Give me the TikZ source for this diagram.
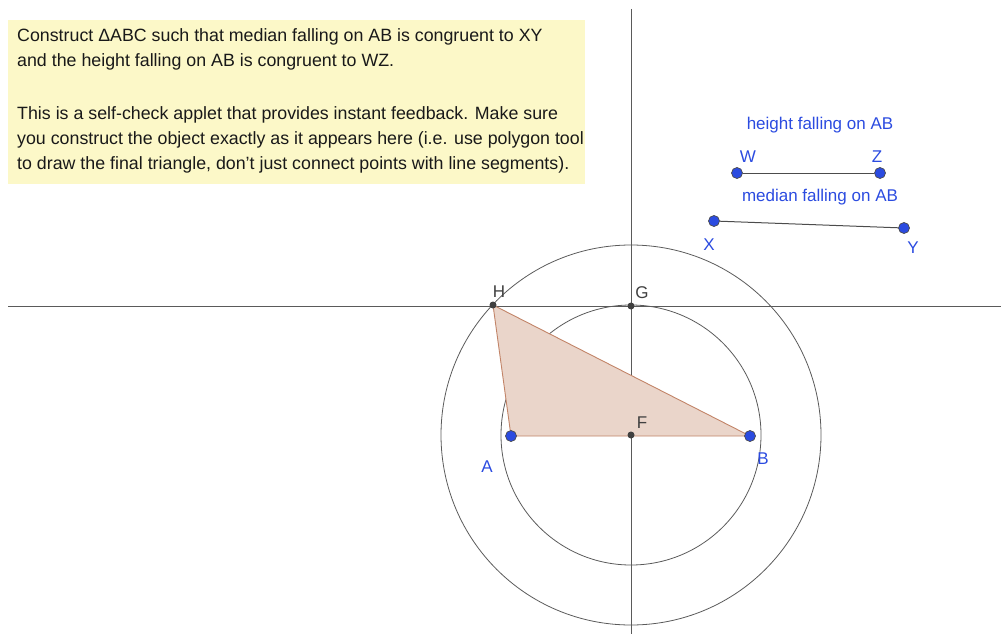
\documentclass[tikz,border=0pt]{standalone}
\usepackage{fontspec}
\setmainfont{Liberation Sans}
\definecolor{ggblue}{HTML}{2B4BE0}
\definecolor{notebg}{HTML}{FCF8C8}
\definecolor{trifill}{HTML}{EAD5CA}
\definecolor{triedge}{HTML}{C28468}
\definecolor{ggline}{HTML}{5A5A5A}
\begin{document}
\begin{tikzpicture}[x=1pt,y=-1pt,
  bluept/.style={circle,fill=ggblue,draw=black!70,line width=0.7pt,inner sep=0pt,minimum size=11pt},
  graypt/.style={circle,fill=black!75,inner sep=0pt,minimum size=7pt},
  bluelbl/.style={font=\fontsize{17}{19}\selectfont,text=ggblue},
  graylbl/.style={font=\fontsize{17}{19}\selectfont,text=black!75},
  axis/.style={draw=ggline,line width=0.8pt},
  seg/.style={draw=black!70,line width=1pt}]
\useasboundingbox (0,0) rectangle (1001,634);

% note box
\fill[notebg] (8,20) rectangle (585,184);
\node[anchor=north west,inner sep=0pt,align=left,font=\fontsize{17.8}{25}\selectfont,text=black!90] (note) at (17,28)
  {Construct ΔABC such that median falling on AB is congruent to XY\\
   and the height falling on AB is congruent to WZ.\\[28pt]
   This is a self-check applet that provides instant feedback. Make sure\\
   you construct the object exactly as it appears here (i.e. use polygon tool\\
   to draw the final triangle, don't just connect points with line segments).};

% points
\coordinate (F) at (631,435);
\coordinate (G) at (631,306);
\coordinate (H) at (493,305);
\coordinate (A) at (511,436);
\coordinate (B) at (750,436);

% axes
\draw[axis] (8,306) -- (1001,306);
\draw[axis] (631,9) -- (631,634);

% circles
\draw[axis] (F) circle[radius=130];
\draw[axis] (F) circle[radius=190];

% triangle
\draw[fill=trifill,draw=triedge,line width=0.9pt] (H) -- (A) -- (B) -- cycle;

\node[graypt] (g) at (G) {};
\node[graypt] (h) at (H) {};
\node[graypt] (f) at (F) {};
\node[bluept] (a) at (A) {};
\node[bluept] (b) at (B) {};

\node[graylbl] at (499,292) {H};
\node[graylbl] at (642,293) {G};
\node[graylbl] at (642,423) {F};
\node[bluelbl] at (487,467) {A};
\node[bluelbl] at (763,459) {B};

% given segments
\node[bluelbl] (hlbl) at (820,125) {height falling on AB};
\node[bluept] (w) at (737,173) {};
\node[bluept] (z) at (880,173) {};
\draw[seg] (w) -- (z);
\node[bluelbl] at (748,157) {W};
\node[bluelbl] at (877,157) {Z};

\node[bluelbl] (mlbl) at (820,197) {median falling on AB};
\node[bluept] (x) at (714,221) {};
\node[bluept] (y) at (904,228) {};
\draw[seg] (x) -- (y);
\node[bluelbl] at (709,245) {X};
\node[bluelbl] at (913,248) {Y};
\end{tikzpicture}
\end{document}
